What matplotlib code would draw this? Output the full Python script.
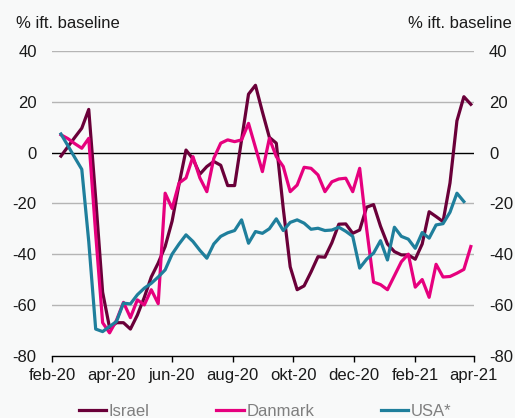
import matplotlib
matplotlib.use("Agg")
import matplotlib.pyplot as plt
import matplotlib.dates as mdates
from matplotlib.lines import Line2D
import pandas as pd

plt.rcParams['font.family'] = ['Liberation Sans', 'DejaVu Sans']
plt.rcParams['axes.unicode_minus'] = False

# weekly observations
dates = pd.date_range("2020-02-10", periods=60, freq="7D")

israel = [-1.4, 2.3, 6, 9.6, 17, -18, -55, -69, -67, -67,
          -69.5, -64, -57, -49, -43.5, -37, -27, -12.5, 1, -2.5,
          -8.5, -5.5, -3.5, -5, -13, -13, 5, 23, 26.5, 16,
          6, 3.7, -22, -45, -54, -52.5, -47, -41, -41.2, -35.5,
          -28.2, -28.1, -31.8, -30.5, -21.5, -20.5, -29, -36, -39, -40.3,
          -40.3, -42, -36, -23.3, -25.2, -27.2, -12, 12.5, 22, 19]

danmark = [7, 5.5, 3.5, 1.7, 5.6, -32, -67, -71, -66, -59,
           -65, -58, -60, -54, -59.5, -16, -22, -12, -10, -1.6,
           -10, -15.4, -2.3, 3.7, 5, 4.3, 5, 11.5, 2, -7.5,
           5.6, -1.6, -5.5, -15.4, -12.8, -5.8, -6.2, -8.8, -15.4, -11.5,
           -10.4, -10.1, -15.4, -6.2, -30, -51, -52, -54, -48.5, -43,
           -40, -53, -50, -57, -44, -49, -48.8, -47.5, -46, -37]

usa = [7.3, 2.7, -2, -6.6, -35, -69.5, -70.5, -68.5, -66.5, -59.3,
       -59.6, -56, -53.4, -51.5, -49, -46.2, -40, -36, -32.4, -35,
       -38.5, -41.6, -36, -33, -31.6, -30.7, -26.5, -35.7, -31.1, -31.8,
       -30, -26.1, -30.7, -27.5, -26.5, -27.8, -30.2, -29.8, -30.7, -30.5,
       -29.4, -31, -33, -45.5, -42, -39.6, -34.7, -42.3, -29.4, -33,
       -34.1, -37.7, -31.5, -33.7, -28.5, -28, -23.5, -16, -19.3]

series_names = ["Israel", "Danmark", "USA*"]
colors = ["#6a0039", "#e6007e", "#1f7f9c"]

tick_dates = pd.to_datetime(["2020-02-01", "2020-04-01", "2020-06-01", "2020-08-01",
                             "2020-10-01", "2020-12-01", "2021-02-01", "2021-04-01"])
tick_labels = ["feb-20", "apr-20", "jun-20", "aug-20", "okt-20", "dec-20", "feb-21", "apr-21"]
yticks = [-80, -60, -40, -20, 0, 20, 40]

bg = "#f8f9f9"
fig = plt.figure(figsize=(5.15, 4.18), dpi=100, facecolor=bg)
ax = fig.add_axes([0.101, 0.149, 0.819, 0.729], facecolor=bg)

ax.set_ylim(-80, 40)
ax.set_xlim(tick_dates[0], tick_dates[-1])
ax.set_yticks(yticks)
for y in yticks[1:]:
    if y != 0:
        ax.axhline(y, color="#b5b5b5", lw=1.0, zorder=1)
ax.axhline(0, color="black", lw=1.0, zorder=2)

lw = 2.3
ax.plot(dates, israel, color=colors[0], lw=lw, zorder=3)
ax.plot(dates, danmark, color=colors[1], lw=lw, zorder=4)
ax.plot(dates[:len(usa)], usa, color=colors[2], lw=lw, zorder=5)

for s in ["top", "left", "right"]:
    ax.spines[s].set_visible(False)
ax.spines["bottom"].set_color("black")
ax.spines["bottom"].set_linewidth(1.0)

ax.set_xticks(tick_dates)
ax.set_xticklabels(tick_labels)
ax.tick_params(axis="x", length=4, width=1, color="black", pad=5, labelsize=12, labelcolor="#1a1a1a")
ax.tick_params(axis="y", length=0, pad=11, labelsize=12, labelcolor="#1a1a1a")

ax2 = ax.twinx()
ax2.set_ylim(-80, 40)
ax2.set_yticks(yticks)
for s in ["top", "left", "right", "bottom"]:
    ax2.spines[s].set_visible(False)
ax2.tick_params(axis="y", length=0, pad=11, labelsize=12, labelcolor="#1a1a1a")

fig.text(0.0305, 1 - 28.3 / 418, "% ift. baseline", ha="left", va="baseline", fontsize=12, color="#1a1a1a")
fig.text(0.9936, 1 - 28.3 / 418, "% ift. baseline", ha="right", va="baseline", fontsize=12, color="#1a1a1a")

handles = [Line2D([], [], color=c, lw=lw) for c in colors]
fig.legend(handles, series_names, ncol=3, loc="center",
           bbox_to_anchor=(265 / 515, 1 - 411 / 418), frameon=False,
           handlelength=1.65, handletextpad=0.15, columnspacing=4.0,
           fontsize=12, labelcolor="#7f7f7f")

fig.savefig("out.png", dpi=100, facecolor=bg)
